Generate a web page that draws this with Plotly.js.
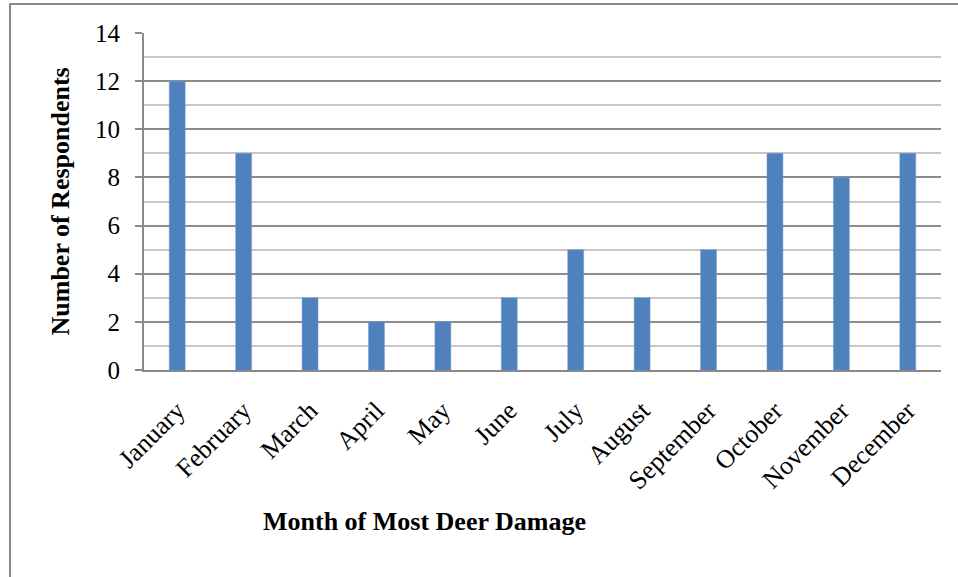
<!DOCTYPE html>
<html>
<head>
<meta charset="utf-8">
<script src="https://cdn.plot.ly/plotly-3.0.1.min.js"></script>
<style>
  html, body { margin: 0; padding: 0; background: #fff; }
  #frame { position: absolute; left: 9px; top: 3px; width: 960px; height: 580px;
           border-left: 2px solid #8a8a8a; border-top: 2px solid #8a8a8a; }
  #chart { position: absolute; left: 0; top: 0; width: 958px; height: 577px; }
</style>
</head>
<body>
<div id="frame"></div>
<div id="chart"></div>
<script>
// Survey: month in which respondents saw the most deer damage
const months = ["January", "February", "March", "April", "May", "June",
                "July", "August", "September", "October", "November", "December"];
const respondents = [12, 9, 3, 2, 2, 3, 5, 3, 5, 9, 8, 9];
const yTicks = [0, 2, 4, 6, 8, 10, 12, 14];

const serif = "'Times New Roman', 'Liberation Serif', serif";

const trace = {
  type: "bar",
  x: months,
  y: respondents,
  marker: { color: "#4f81bd", line: { color: "#6f9ad0", width: 0.5 } },
  hoverinfo: "x+y"
};

const plotL = 144, plotR = 941, plotT = 33, plotB = 370;
const plotW = plotR - plotL, plotH = plotB - plotT;

const layout = {
  width: 958, height: 577,
  margin: { l: plotL, r: 958 - plotR, t: plotT, b: 577 - plotB },
  paper_bgcolor: "rgba(0,0,0,0)",
  plot_bgcolor: "rgba(0,0,0,0)",
  showlegend: false,
  bargap: 0.76,
  font: { family: serif, size: 25, color: "#000" },
  xaxis: {
    type: "category",
    tickangle: -45,
    showline: true, linecolor: "#8a8a8a", linewidth: 2,
    ticks: "", showgrid: false,
    ticklabelstandoff: 13,
    tickfont: { family: serif, size: 26, color: "#000" },
    fixedrange: true
  },
  yaxis: {
    range: [0, 14],
    tickmode: "array", tickvals: yTicks, ticktext: yTicks.map(String),
    showline: true, linecolor: "#8a8a8a", linewidth: 2,
    ticks: "outside", ticklen: 7, tickcolor: "#8a8a8a", tickwidth: 2,
    ticklabelstandoff: 10,
    showgrid: true, gridcolor: "#8c8c8c", gridwidth: 2,
    zeroline: false,
    minor: { dtick: 1, showgrid: true, gridcolor: "#c8c8c8", gridwidth: 2, ticks: "" },
    tickfont: { family: serif, size: 25, color: "#000" },
    fixedrange: true
  },
  annotations: [
    {
      text: "<b>Month of Most Deer Damage</b>",
      xref: "paper", yref: "paper",
      x: (424 - plotL) / plotW, y: -(521 - plotB) / plotH,
      xanchor: "center", yanchor: "middle",
      showarrow: false,
      font: { family: serif, size: 26, color: "#000" }
    },
    {
      text: "<b>Number of Respondents</b>",
      xref: "paper", yref: "paper",
      x: (60 - plotL) / plotW, y: 0.5,
      xanchor: "center", yanchor: "middle",
      textangle: -90,
      showarrow: false,
      font: { family: serif, size: 26, color: "#000" }
    }
  ]
};

Plotly.newPlot("chart", [trace], layout, { displayModeBar: false, staticPlot: true });
</script>
</body>
</html>
